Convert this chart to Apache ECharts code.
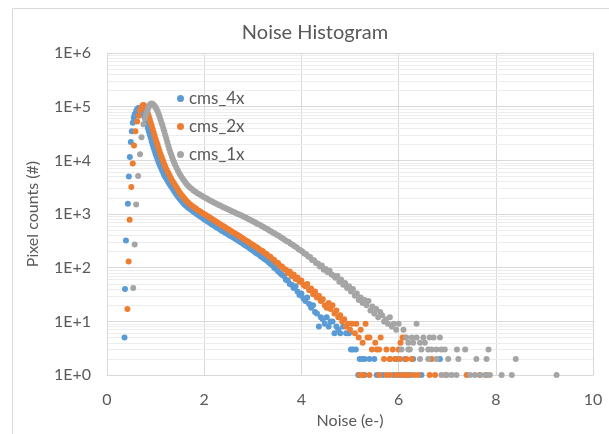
<!DOCTYPE html>
<html>
<head>
<meta charset="utf-8">
<title>Noise Histogram</title>
<script src="https://cdn.jsdelivr.net/npm/echarts@6/dist/echarts.min.js"></script>
<style>
  html, body { margin: 0; padding: 0; background: #fff; }
  #noiseChart { width: 609px; height: 434px; }
</style>
</head>
<body>
<div id="noiseChart"></div>
<script>
  // [noise (e-), pixel counts]
  let cms4x = [
    [0.36, 5], [0.37, 40], [0.39, 320], [0.43, 1550], [0.45, 5000], [0.47, 11500], [0.49, 22000], [0.51, 35000],
    [0.53, 50000], [0.55, 62000], [0.57, 72000], [0.60, 83000], [0.62, 90000], [0.64, 94000], [0.66, 96000],
    [0.68, 94000], [0.70, 89000], [0.72, 82000], [0.74, 75000], [0.76, 68000], [0.78, 60000], [0.80, 53000],
    [0.82, 46000], [0.84, 40000], [0.86, 35000], [0.88, 30000], [0.90, 26000], [0.92, 22500], [0.94, 19500],
    [0.96, 17000], [0.98, 15000], [1.00, 13200], [1.02, 11800], [1.04, 10500], [1.06, 9400], [1.08, 8500],
    [1.10, 7700], [1.12, 7000], [1.14, 6400], [1.16, 5800], [1.18, 5300], [1.20, 4900], [1.23, 4400],
    [1.26, 3950], [1.29, 3550], [1.32, 3250], [1.35, 2950], [1.38, 2700], [1.41, 2450], [1.44, 2250],
    [1.47, 2050], [1.50, 1900], [1.53, 1760], [1.56, 1640], [1.59, 1530], [1.62, 1450], [1.65, 1370],
    [1.68, 1300], [1.72, 1220], [1.76, 1140], [1.80, 1070], [1.84, 1010], [1.88, 950], [1.92, 900],
    [1.96, 850], [2.00, 800], [2.04, 760], [2.08, 715], [2.12, 680], [2.16, 640], [2.20, 610], [2.24, 575],
    [2.28, 550], [2.32, 520], [2.36, 490], [2.40, 470], [2.44, 445], [2.48, 425], [2.52, 400], [2.56, 385],
    [2.60, 365], [2.64, 345], [2.68, 330], [2.72, 310], [2.76, 295], [2.80, 280], [2.84, 262], [2.88, 250],
    [2.92, 235], [2.96, 222], [3.00, 210], [3.04, 196], [3.08, 185], [3.12, 178], [3.16, 163], [3.20, 155],
    [3.24, 146], [3.28, 138], [3.32, 128], [3.36, 118], [3.40, 112], [3.44, 100], [3.48, 95], [3.52, 86],
    [3.56, 80], [3.60, 74], [3.64, 70], [3.68, 60], [3.72, 58], [3.76, 50], [3.80, 48], [3.84, 42], [3.88, 45],
    [3.92, 36], [3.96, 31], [4.00, 33], [4.04, 27], [4.08, 24], [4.12, 28], [4.16, 21], [4.20, 18], [4.24, 20],
    [4.28, 15], [4.32, 14], [4.36, 8], [4.40, 12], [4.44, 11], [4.48, 9], [4.52, 12], [4.56, 8], [4.60, 10],
    [4.64, 10], [4.68, 6], [4.72, 8], [4.76, 7], [4.80, 6], [4.86, 8], [4.92, 6], [4.98, 6], [5.02, 3],
    [5.06, 3], [5.12, 3], [5.17, 1], [5.20, 2], [5.25, 2], [5.30, 2], [5.30, 1], [5.40, 2], [5.50, 2],
    [5.55, 1], [5.68, 1], [5.82, 2], [5.90, 1], [5.96, 2], [6.00, 1], [6.10, 1], [6.13, 2], [6.25, 1],
    [6.30, 2], [6.47, 1], [6.85, 2]
  ];
  let cms2x = [
    [0.42, 17], [0.445, 130], [0.465, 780], [0.50, 3200], [0.53, 8700], [0.555, 19000], [0.585, 35000],
    [0.62, 53000], [0.65, 68000], [0.68, 85000], [0.71, 98000], [0.74, 107000], [0.76, 106000], [0.78, 100000],
    [0.80, 92000], [0.82, 84000], [0.84, 75000], [0.86, 66000], [0.88, 58000], [0.90, 50000], [0.92, 44000],
    [0.94, 38000], [0.96, 33000], [0.98, 29000], [1.00, 25000], [1.02, 22000], [1.04, 19500], [1.06, 17000],
    [1.08, 15000], [1.10, 13200], [1.12, 11800], [1.14, 10500], [1.16, 9400], [1.18, 8400], [1.20, 7600],
    [1.23, 6700], [1.26, 5900], [1.29, 5200], [1.32, 4600], [1.35, 4100], [1.38, 3700], [1.41, 3350],
    [1.44, 3050], [1.47, 2750], [1.50, 2500], [1.53, 2300], [1.56, 2120], [1.59, 1960], [1.62, 1820],
    [1.65, 1700], [1.68, 1600], [1.72, 1490], [1.76, 1400], [1.80, 1320], [1.84, 1240], [1.88, 1170],
    [1.92, 1110], [1.96, 1050], [2.00, 1000], [2.04, 950], [2.08, 900], [2.12, 855], [2.16, 810], [2.20, 770],
    [2.24, 730], [2.28, 690], [2.32, 655], [2.36, 620], [2.40, 590], [2.44, 560], [2.48, 530], [2.52, 505],
    [2.56, 480], [2.60, 455], [2.64, 430], [2.68, 410], [2.72, 390], [2.76, 370], [2.80, 350], [2.84, 330],
    [2.88, 315], [2.92, 298], [2.96, 280], [3.00, 268], [3.04, 250], [3.08, 240], [3.12, 225], [3.16, 212],
    [3.20, 205], [3.24, 188], [3.28, 180], [3.32, 165], [3.36, 160], [3.40, 145], [3.44, 140], [3.48, 125],
    [3.52, 122], [3.56, 108], [3.60, 105], [3.64, 96], [3.68, 92], [3.72, 80], [3.76, 85], [3.80, 70],
    [3.84, 75], [3.88, 62], [3.92, 66], [3.96, 55], [4.00, 58], [4.04, 48], [4.08, 45], [4.12, 50], [4.16, 38],
    [4.20, 41], [4.24, 32], [4.28, 36], [4.32, 28], [4.36, 30], [4.40, 24], [4.44, 26], [4.48, 20], [4.52, 18],
    [4.56, 22], [4.60, 17], [4.64, 20], [4.68, 14], [4.72, 16], [4.76, 12], [4.80, 13], [4.84, 10], [4.88, 11],
    [4.92, 8], [4.96, 9], [5.00, 7], [5.04, 9], [5.10, 6], [5.13, 9], [5.18, 5], [5.22, 7], [5.26, 4],
    [5.32, 9], [5.36, 5], [5.40, 5], [5.45, 3], [5.52, 4], [5.55, 3], [5.60, 3], [5.63, 5], [5.70, 2],
    [5.75, 3], [5.82, 2], [5.88, 3], [5.92, 2], [6.00, 3], [6.03, 2], [6.04, 4], [6.08, 5], [6.13, 5],
    [6.16, 2], [6.27, 2], [6.68, 2], [5.20, 1], [5.27, 1], [5.40, 1], [5.60, 1], [5.75, 1], [5.82, 1],
    [5.95, 1], [6.05, 1], [6.15, 1], [6.20, 1], [6.32, 1], [6.40, 1], [6.64, 1], [6.75, 1], [6.97, 1],
    [7.40, 1], [7.67, 1], [7.81, 1]
  ];
  let cms1x = [
    [0.54, 42], [0.57, 270], [0.60, 1500], [0.64, 5100], [0.68, 13000], [0.71, 27000], [0.75, 47000],
    [0.78, 60000], [0.80, 70000], [0.82, 80000], [0.84, 90000], [0.86, 100000], [0.88, 108000], [0.90, 114000],
    [0.92, 115000], [0.94, 112000], [0.96, 108000], [0.98, 103000], [1.00, 97000], [1.02, 90000], [1.04, 82000],
    [1.06, 74000], [1.08, 66000], [1.10, 58000], [1.12, 51000], [1.14, 45000], [1.16, 39000], [1.18, 34000],
    [1.20, 29500], [1.22, 25500], [1.24, 22000], [1.26, 19000], [1.28, 16500], [1.30, 14500], [1.32, 12800],
    [1.34, 11400], [1.36, 10200], [1.38, 9200], [1.40, 8300], [1.43, 7300], [1.46, 6400], [1.49, 5700],
    [1.52, 5100], [1.55, 4650], [1.58, 4250], [1.61, 3900], [1.64, 3600], [1.67, 3350], [1.70, 3150],
    [1.74, 2950], [1.78, 2750], [1.82, 2600], [1.86, 2450], [1.90, 2330], [1.94, 2220], [1.98, 2110],
    [2.02, 2010], [2.06, 1920], [2.10, 1830], [2.14, 1750], [2.18, 1680], [2.22, 1610], [2.26, 1540],
    [2.30, 1480], [2.34, 1420], [2.38, 1360], [2.42, 1310], [2.46, 1260], [2.50, 1210], [2.54, 1160],
    [2.58, 1120], [2.62, 1080], [2.66, 1040], [2.70, 1000], [2.74, 960], [2.78, 925], [2.82, 890], [2.86, 850],
    [2.90, 815], [2.94, 780], [2.98, 750], [3.02, 715], [3.06, 690], [3.10, 655], [3.14, 630], [3.18, 600],
    [3.22, 575], [3.26, 545], [3.30, 525], [3.34, 495], [3.38, 475], [3.42, 450], [3.46, 430], [3.50, 405],
    [3.54, 390], [3.58, 365], [3.62, 350], [3.66, 330], [3.70, 310], [3.74, 300], [3.78, 280], [3.82, 268],
    [3.86, 250], [3.90, 240], [3.94, 222], [3.98, 212], [4.02, 200], [4.06, 185], [4.10, 178], [4.14, 162],
    [4.18, 158], [4.22, 140], [4.26, 138], [4.30, 122], [4.34, 120], [4.38, 105], [4.42, 110], [4.46, 92],
    [4.50, 95], [4.54, 82], [4.58, 88], [4.62, 75], [4.66, 72], [4.70, 65], [4.74, 70], [4.78, 55], [4.82, 60],
    [4.86, 48], [4.90, 52], [4.94, 42], [4.98, 45], [5.02, 36], [5.06, 40], [5.10, 30], [5.14, 33], [5.18, 25],
    [5.22, 28], [5.26, 22], [5.30, 25], [5.34, 20], [5.38, 24], [5.42, 16], [5.46, 19], [5.50, 14], [5.54, 17],
    [5.58, 12], [5.62, 15], [5.66, 13], [5.70, 10], [5.74, 11], [5.78, 9], [5.82, 12], [5.86, 8], [5.90, 9],
    [5.95, 7], [6.00, 9], [6.06, 3], [6.10, 7], [6.16, 5], [6.20, 4], [6.23, 3], [6.27, 5], [6.30, 4],
    [6.37, 9], [6.37, 5], [6.44, 4], [6.47, 3], [6.51, 5], [6.54, 4], [6.61, 3], [6.64, 5], [6.68, 3],
    [6.72, 5], [6.78, 3], [6.85, 5], [6.88, 3], [6.95, 3], [7.20, 3], [7.37, 3], [7.85, 3], [6.20, 3],
    [6.44, 2], [6.61, 2], [6.78, 2], [7.02, 2], [7.23, 2], [7.60, 2], [7.81, 2], [8.41, 2], [6.88, 1],
    [6.99, 1], [7.09, 1], [7.19, 1], [7.47, 1], [7.57, 1], [7.68, 1], [7.78, 1], [7.88, 1], [8.12, 1],
    [8.33, 1], [9.25, 1]
  ];

  let seriesNames = ['cms_4x', 'cms_2x', 'cms_1x'];
  let seriesColors = ['#5B9BD5', '#ED7D31', '#A5A5A5'];
  let xTicks = [0, 2, 4, 6, 8, 10];

  // minor gridlines at 2..9 of every decade (like Excel log axis)
  let minorLines = [];
  for (let p = 0; p < 6; p++) {
    for (let m = 2; m <= 9; m++) {
      minorLines.push({yAxis: m * Math.pow(10, p)});
    }
  }

  let textColor = '#595959';
  let fontName = 'Lato';

  let noiseChart = echarts.init(document.getElementById('noiseChart'));
  noiseChart.setOption({
    animation: false,
    textStyle: {fontFamily: fontName, color: textColor},
    title: {
      text: 'Noise Histogram',
      left: 310,
      top: 18,
      textAlign: 'center',
      textStyle: {fontSize: 20, fontWeight: 'normal', color: textColor, fontFamily: fontName}
    },
    graphic: [{
      type: 'rect',
      shape: {x: 12.5, y: 8.5, width: 620, height: 460},
      style: {fill: 'none', stroke: '#D9D9D9', lineWidth: 1},
      silent: true
    }],
    legend: {
      orient: 'vertical',
      left: 172,
      top: 85,
      itemWidth: 7,
      itemHeight: 7,
      itemGap: 11,
      icon: 'circle',
      data: seriesNames,
      textStyle: {fontSize: 17, color: textColor, fontFamily: fontName, lineHeight: 17}
    },
    grid: {left: 107, right: 16, top: 53, bottom: 52, containLabel: false},
    xAxis: {
      type: 'value',
      min: xTicks[0],
      max: xTicks[xTicks.length - 1],
      interval: 2,
      name: 'Noise (e-)',
      nameLocation: 'middle',
      nameGap: 34,
      nameTextStyle: {fontSize: 16, color: textColor, fontFamily: fontName},
      axisLine: {show: true, lineStyle: {color: '#D9D9D9'}},
      axisTick: {show: false},
      axisLabel: {fontSize: 16, color: textColor, margin: 17, fontFamily: fontName},
      splitLine: {show: true, lineStyle: {color: '#D9D9D9'}}
    },
    yAxis: {
      type: 'log',
      logBase: 10,
      min: 1,
      max: 1000000,
      name: 'Pixel counts (#)',
      nameLocation: 'middle',
      nameGap: 66,
      nameTextStyle: {fontSize: 16, color: textColor, fontFamily: fontName},
      axisLine: {show: true, lineStyle: {color: '#D9D9D9'}},
      axisTick: {show: false},
      axisLabel: {
        fontSize: 16,
        color: textColor,
        margin: 16,
        fontFamily: fontName,
        formatter: function (v) {
          return '1E+' + Math.round(Math.log10(v));
        }
      },
      splitLine: {show: true, lineStyle: {color: '#D9D9D9'}}
    },
    series: [
      {
        name: 'minor',
        type: 'scatter',
        data: [],
        z: 0,
        silent: true,
        markLine: {
          silent: true,
          z: 0,
          symbol: 'none',
          label: {show: false},
          lineStyle: {color: '#EDEDED', type: 'solid', width: 1},
          data: minorLines
        }
      },
      {name: seriesNames[0], type: 'scatter', symbolSize: 6, data: cms4x, itemStyle: {color: seriesColors[0], opacity: 1}},
      {name: seriesNames[1], type: 'scatter', symbolSize: 6, data: cms2x, itemStyle: {color: seriesColors[1], opacity: 1}},
      {name: seriesNames[2], type: 'scatter', symbolSize: 6, data: cms1x, itemStyle: {color: seriesColors[2], opacity: 1}}
    ]
  });
</script>
</body>
</html>
